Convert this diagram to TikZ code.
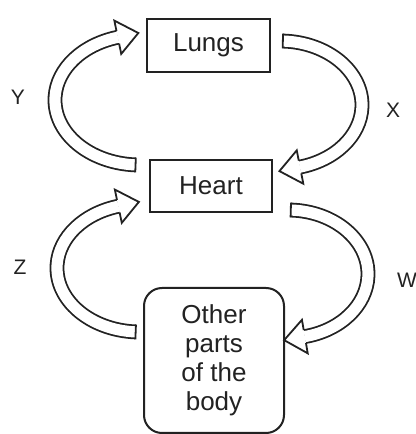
\documentclass[tikz,border=0pt]{standalone}
\usepackage{fontspec}
\setmainfont{Liberation Sans}
\usetikzlibrary{decorations.markings}
\definecolor{ink}{HTML}{222222}
\tikzset{
  box/.style={draw=ink, line width=1pt, fill=white, text=ink, font=\fontsize{13}{14.5}\selectfont, align=center, inner sep=0pt},
  lbl/.style={text=ink, font=\fontsize{10.5}{12}\selectfont},
  shaft/.style={draw=ink, line width=0.9pt, double=white, double distance=5.6pt},
  edge/.style={draw=ink, line width=0.9pt, line join=miter}
}
% #1 centre, #2 x radius, #3 y radius, #4 start angle, #5 end angle
\newcommand\flowarrow[5]{%
  \draw[shaft] #1 ++(#4:#2 and #3) arc[start angle=#4, end angle=#5, x radius=#2, y radius=#3];
  \path[postaction={decorate}, decoration={markings,
      mark=at position 0 with {\draw[edge] (0,-7.4) -- (0,7.4);},
      mark=at position 0.999 with {\draw[edge, fill=white] (0,6.5) -- (0,17) -- (21,0) -- (0,-17) -- (0,-6.5);}}]
    #1 ++(#4:#2 and #3) arc[start angle=#4, end angle=#5, x radius=#2, y radius=#3];
}
\begin{document}
\begin{tikzpicture}[x=0.5pt, y=0.5pt]
\useasboundingbox (0,0) rectangle (416,434);
\node[box, minimum width=61.5pt, minimum height=26.5pt] (lungs) at (208.5,388.5) {Lungs};
\node[box, minimum width=61pt, minimum height=26pt] (heart) at (211,248) {Heart};
\node[box, rounded corners=9pt, minimum width=70pt, minimum height=72.5pt] (body) at (214,73.5) {Other\\parts\\of the\\body};
\flowarrow{(140,334)}{85}{65}{267}{105}
\flowarrow{(280,329)}{82}{64}{88}{-76}
\flowarrow{(140,166)}{83}{64}{267}{105}
\flowarrow{(288,160)}{80}{64}{88}{-78}
\node[lbl] (y) at (18,337) {Y};
\node[lbl] (x) at (393,324) {X};
\node[lbl] (z) at (20,167) {Z};
\node[lbl] (w) at (407,154) {W};
\end{tikzpicture}
\end{document}
